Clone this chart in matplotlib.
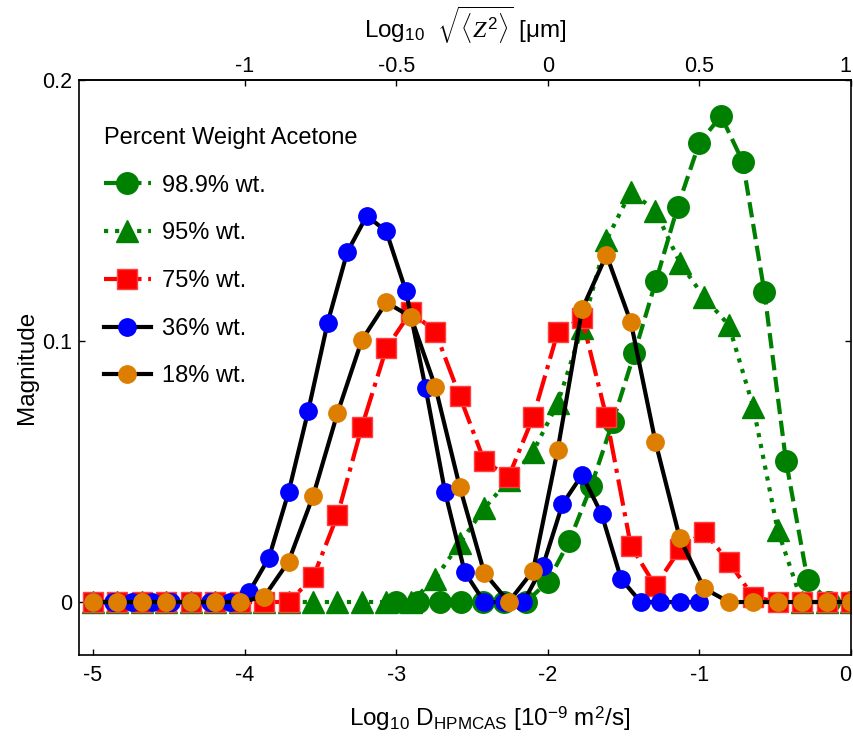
import matplotlib
matplotlib.use("Agg")
import matplotlib.pyplot as plt
from matplotlib.ticker import FixedLocator, FuncFormatter

plt.rcParams['font.family'] = ['Liberation Sans', 'DejaVu Sans']
plt.rcParams['axes.unicode_minus'] = False
plt.rcParams['mathtext.fontset'] = 'custom'
plt.rcParams['mathtext.rm'] = 'Liberation Sans'
plt.rcParams['mathtext.it'] = 'Liberation Serif:italic'
plt.rcParams['mathtext.bf'] = 'Liberation Sans:bold'

### data: log10 D grids (three different grids were used)
logD_a = [-5.000, -4.839, -4.677, -4.516, -4.355, -4.194, -4.032, -3.871,
          -3.710, -3.548, -3.387, -3.226, -3.065, -2.903, -2.742, -2.581,
          -2.419, -2.258, -2.097, -1.935, -1.774, -1.613, -1.452, -1.290,
          -1.129, -0.968, -0.806, -0.645, -0.484, -0.323, -0.161, 0.000]
logD_b = [-5.000, -4.871, -4.742, -4.613, -4.484, -4.355, -4.226, -4.097,
          -3.968, -3.839, -3.710, -3.581, -3.452, -3.323, -3.194, -3.065,
          -2.935, -2.806, -2.677, -2.548, -2.419, -2.290, -2.161, -2.032,
          -1.903, -1.774, -1.645, -1.516, -1.387, -1.258, -1.129, -1.000]
logD_c = [-3.000, -2.857, -2.714, -2.571, -2.429, -2.286, -2.143, -2.000,
          -1.857, -1.714, -1.571, -1.429, -1.286, -1.143, -1.000, -0.857,
          -0.714, -0.571, -0.429, -0.286, -0.143, 0.000]

mag_989 = [0, 0, 0, 0, 0, 0, 0, 0.0078, 0.0235, 0.0444, 0.0691, 0.0953,
           0.1231, 0.1515, 0.176, 0.1862, 0.1687, 0.1187, 0.0541, 0.0084, 0, 0]
mag_95 = [0, 0, 0, 0, 0, 0, 0, 0, 0, 0, 0, 0, 0, 0, 0.009, 0.0225,
          0.0359, 0.0467, 0.0576, 0.0761, 0.1049, 0.1387, 0.1572, 0.1499,
          0.130, 0.1167, 0.1061, 0.0748, 0.0276, 0, 0, 0]
mag_75 = [0, 0, 0, 0, 0, 0, 0, 0, 0, 0.0094, 0.0333, 0.0672, 0.0972, 0.1112,
          0.1036, 0.0789, 0.054, 0.048, 0.0708, 0.1033, 0.1087, 0.0708,
          0.0215, 0.0061, 0.0202, 0.0269, 0.0154, 0.002, 0, 0, 0, 0]
mag_36 = [0, 0, 0, 0, 0, 0, 0, 0, 0.004, 0.017, 0.042, 0.073, 0.107, 0.134,
          0.148, 0.142, 0.119, 0.082, 0.042, 0.0115, 0, 0, 0, 0.0138, 0.0375,
          0.0487, 0.0337, 0.0088, 0, 0, 0, 0]
mag_18 = [0, 0, 0, 0, 0, 0, 0, 0.002, 0.0155, 0.0406, 0.0724, 0.1004, 0.1148,
          0.1093, 0.0825, 0.0442, 0.0112, 0, 0.012, 0.0582, 0.1121, 0.1330,
          0.1072, 0.0614, 0.0244, 0.0052, 0, 0, 0, 0, 0, 0]

labels = ['98.9% wt.', '95% wt.', '75% wt.', '36% wt.', '18% wt.']

green = '#008000'
orange = '#DE7E00'

fig = plt.figure(figsize=(8.54, 7.40), dpi=100)
ax = fig.add_axes([79/854, 1 - 655/740, 772/854, 575/740])

lw = 3.0
ax.plot(logD_c, mag_989, '--', color=green, lw=lw, marker='o', ms=15.5,
        mec=green, mfc=green, label=labels[0])
ax.plot(logD_a, mag_95, ':', color=green, lw=lw, marker='^', ms=16.5,
        mec=green, mfc=green, label=labels[1])
ax.plot(logD_a, mag_75, '-.', color='red', lw=lw, marker='s', ms=14,
        mec='#FF4040', mfc='red', label=labels[2])
ax.plot(logD_b, mag_36, '-', color='black', lw=lw, marker='o', ms=12.5,
        mec='blue', mfc='blue', label=labels[3])
ax.plot(logD_a, mag_18, '-', color='black', lw=lw, marker='o', ms=12.5,
        mec=orange, mfc=orange, label=labels[4])

ax.set_xlim(-5.092, 0)
ax.set_ylim(-0.0203, 0.2)
ax.xaxis.set_major_locator(FixedLocator([-5, -4, -3, -2, -1, 0]))
ax.yaxis.set_major_locator(FixedLocator([0, 0.1, 0.2]))
fmt = FuncFormatter(lambda v, p: '%g' % v)
ax.xaxis.set_major_formatter(fmt)
ax.yaxis.set_major_formatter(fmt)
ax.tick_params(axis='x', direction='in', length=4, width=1, labelsize=15.5,
               pad=7, top=False)
ax.tick_params(axis='y', direction='in', length=4, width=1, labelsize=15.5,
               pad=5, right=True)
for s in ax.spines.values():
    s.set_linewidth(1.2)

# top axis: log10 sqrt(<Z^2>) = (log10 D + 2) / 2
sec = ax.secondary_xaxis('top', functions=(lambda d: (d + 2) / 2,
                                           lambda z: 2 * z - 2))
sec.xaxis.set_major_locator(FixedLocator([-1, -0.5, 0, 0.5, 1]))
sec.xaxis.set_major_formatter(fmt)
sec.tick_params(direction='in', length=4, width=1, labelsize=15.5, pad=2)
sec.spines['top'].set_linewidth(1.2)
sec.set_xlabel(r'Log$_{10}$  $\sqrt{\langle Z^2 \rangle}$ [μm]', fontsize=17.5,
               labelpad=13)

ax.set_ylabel('Magnitude', fontsize=17.5, labelpad=3)
ax.set_xlabel(r'Log$_{10}$ D$_{\mathrm{HPMCAS}}$ [10$^{-9}$ m$^2$/s]',
              fontsize=17.5)
ax.xaxis.set_label_coords((490 - 79) / 772, -0.085)

# keep the edge tick labels inside the figure
fig.canvas.draw()
ax.get_xticklabels()[-1].set_horizontalalignment('right')
sec.get_xticklabels()[-1].set_horizontalalignment('right')

leg = ax.legend(loc='upper left', bbox_to_anchor=(0.02, 0.935), frameon=False,
                fontsize=17, title='Percent Weight Acetone',
                title_fontsize=17, alignment='left', handlelength=2.0,
                handletextpad=0.45, labelspacing=1.09, borderaxespad=0)

fig.savefig('out.png', dpi=100)
